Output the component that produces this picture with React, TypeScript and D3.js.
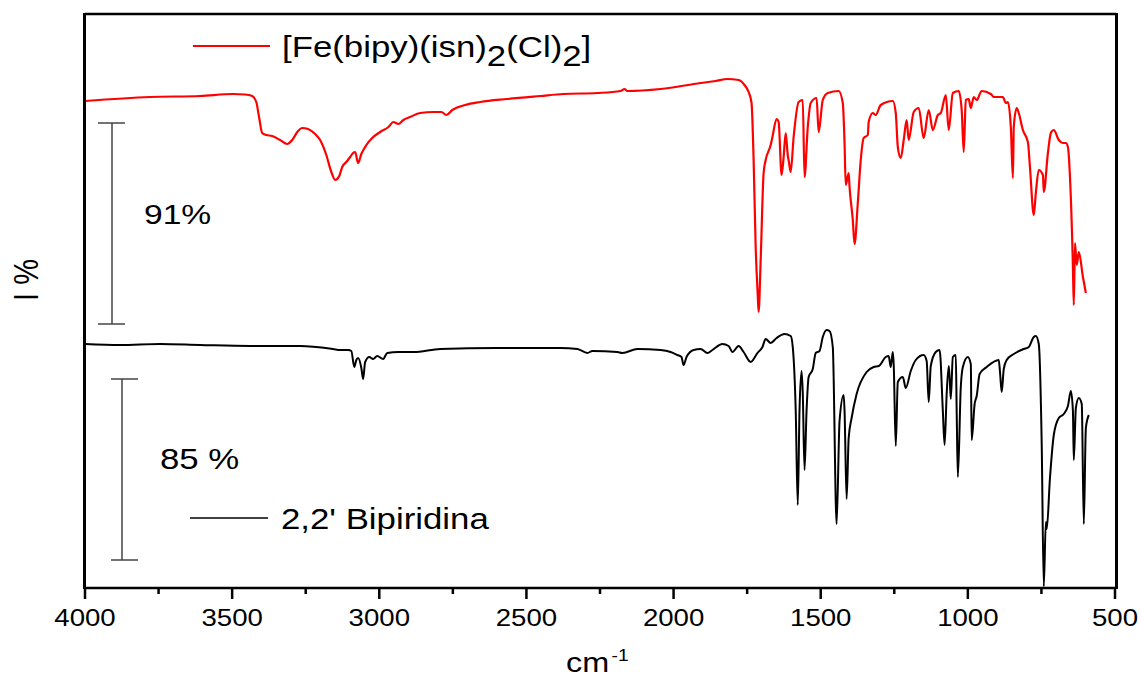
import React from "react";
import * as d3 from "d3";

// Wavenumber (cm^-1) vs. relative intensity (arbitrary I% units, curves stacked)
const redSpectrum: [number, number][] = [
  [4000, 97.4], [3779, 98.2], [3609, 98.4], [3497, 98.8], [3456, 98.7], [3432, 98.4],
  [3418, 97.2], [3408, 94], [3398, 91], [3384, 90.6], [3364, 90.4], [3337, 89.6],
  [3313, 88.8], [3296, 89.6], [3276, 91.4], [3262, 92], [3242, 91.8], [3218, 90.8],
  [3201, 89.6], [3180, 86.6], [3163, 83.2], [3150, 81.6], [3136, 82.4], [3126, 84.2],
  [3112, 85.2], [3099, 86.2], [3089, 87], [3082, 87.2], [3072, 85], [3061, 86.8],
  [3044, 88.6], [3024, 90], [2997, 91.2], [2969, 92.2], [2952, 93.2], [2935, 92.8],
  [2918, 93.6], [2895, 94.2], [2861, 95], [2816, 95.2], [2789, 95.2], [2772, 94.6],
  [2752, 95.6], [2708, 96.6], [2657, 97.2], [2565, 97.8], [2453, 98.4], [2374, 98.8],
  [2259, 99], [2180, 99.4], [2167, 99.8], [2157, 99.4], [2044, 99.8], [1908, 101],
  [1857, 101.4], [1817, 101.8], [1779, 101.6], [1759, 100.6], [1745, 99.2], [1735, 97],
  [1728, 85.6], [1721, 68.2], [1714, 58.6], [1711, 55.2], [1704, 65.6], [1694, 83],
  [1687, 85.6], [1670, 88.6], [1664, 90.2], [1650, 93.8], [1643, 93.2], [1633, 82.6],
  [1626, 86.2], [1619, 91], [1612, 86.6], [1608, 85.2], [1602, 83.2], [1592, 90.2],
  [1575, 97.2], [1561, 97.6], [1555, 82.2], [1544, 92.2], [1534, 97], [1514, 98],
  [1507, 91.2], [1493, 97.6], [1476, 99], [1439, 99.4], [1425, 97], [1419, 89],
  [1415, 80.6], [1405, 83], [1402, 80.2], [1391, 73.6], [1385, 68.8], [1374, 77],
  [1364, 85.6], [1354, 90], [1340, 90.6], [1337, 93.2], [1323, 95], [1313, 94.6],
  [1296, 96.6], [1255, 97.4], [1245, 95], [1238, 88.2], [1228, 86], [1218, 89.6],
  [1208, 93.6], [1201, 89.6], [1184, 95.2], [1167, 96], [1150, 90], [1133, 95.6],
  [1119, 91.6], [1102, 94.6], [1092, 95], [1075, 98.6], [1065, 91.6], [1051, 99],
  [1031, 99.4], [1021, 95.6], [1014, 87.2], [1007, 97.6], [997, 97.8], [990, 96],
  [980, 98.2], [970, 97.6], [953, 99.4], [922, 98.8], [912, 98.2], [881, 98.2],
  [871, 97], [864, 97.2], [854, 92.2], [847, 82], [844, 92.2], [834, 96],
  [827, 95], [813, 91.6], [796, 89.2], [789, 84.2], [776, 74.6], [769, 79],
  [759, 83.6], [745, 82.6], [742, 79.2], [728, 87], [718, 91], [708, 91.6],
  [691, 89.6], [677, 89], [667, 89], [660, 88.2], [653, 82.2], [643, 64.2],
  [640, 56.6], [636, 69], [630, 64.6], [623, 67.2], [609, 62.2], [599, 59],
];

const blackSpectrum: [number, number][] = [
  [4000, 48.8], [3881, 48.6], [3745, 48.8], [3609, 48.6], [3439, 48.4], [3269, 48.4],
  [3157, 47.8], [3133, 47.6], [3106, 47.6], [3095, 47.4], [3085, 44.2], [3078, 45.6],
  [3072, 46], [3061, 44], [3055, 41.8], [3048, 45.2], [3034, 46.2], [3021, 45.8],
  [3007, 46.4], [2987, 45.8], [2973, 47], [2935, 47.2], [2884, 47.2], [2793, 47.8],
  [2599, 48], [2385, 48], [2327, 47.8], [2293, 47], [2276, 47.4], [2191, 47.2],
  [2174, 47], [2123, 47.8], [2044, 47.6], [2010, 47.2], [1987, 46.6], [1973, 46.2],
  [1966, 44.6], [1956, 46.2], [1932, 47.6], [1908, 47.8], [1885, 47], [1868, 47.6],
  [1834, 48.8], [1813, 48.4], [1800, 47.2], [1779, 48.4], [1762, 47.2], [1738, 45.2],
  [1715, 47], [1698, 48.2], [1687, 49.8], [1670, 49], [1650, 50], [1623, 50.8],
  [1602, 50.4], [1595, 48.2], [1585, 35.6], [1578, 16.6], [1572, 35.6], [1565, 43.4],
  [1561, 39], [1555, 23.6], [1548, 35.6], [1541, 42.2], [1527, 43.8], [1517, 47],
  [1504, 47.4], [1493, 50.2], [1480, 51.6], [1470, 51.4], [1459, 48.2], [1446, 12.8],
  [1436, 33.4], [1422, 38.6], [1419, 35.4], [1412, 17.8], [1405, 30], [1395, 34],
  [1378, 38.8], [1344, 43.2], [1320, 44.2], [1303, 44.4], [1279, 46.2], [1269, 46.4],
  [1262, 44.2], [1255, 47.2], [1252, 44.8], [1245, 28.4], [1238, 41.2], [1221, 42.2],
  [1211, 40], [1194, 43.4], [1177, 45.6], [1150, 46.6], [1140, 45.4], [1133, 37.2],
  [1126, 44.4], [1109, 47.2], [1096, 47.6], [1085, 35.4], [1079, 28.6], [1072, 38.8],
  [1065, 44.4], [1062, 42.2], [1058, 37.8], [1051, 46.2], [1041, 46.6], [1038, 35.4],
  [1034, 22.2], [1024, 40.2], [1017, 44.2], [1000, 46.2], [990, 44.8], [987, 29.6],
  [977, 36.8], [970, 38.4], [960, 42.8], [936, 44.2], [895, 45.6], [891, 43.4],
  [885, 39.2], [878, 43.8], [868, 45.6], [844, 46.8], [810, 47.8], [793, 48.2],
  [776, 50.2], [769, 50.4], [759, 48.8], [749, 28.6], [742, 0.3], [735, 13.2],
  [732, 11.8], [721, 22], [708, 30.6], [691, 34], [674, 34.8], [660, 36.4],
  [650, 39.4], [643, 35.4], [640, 25.6], [633, 36], [623, 38], [613, 36.8],
  [606, 12.8], [599, 32], [589, 34.6],
];

const majorTicks = [4000, 3500, 3000, 2500, 2000, 1500, 1000, 500];
const minorTicks = [3750, 3250, 2750, 2250, 1750, 1250, 750];

const seriesLabels = { red: "[Fe(bipy)(isn)", black: "2,2' Bipiridina" };
const scaleBarLabels = ["91%", "85 %"];
// scale bars expressed in plot units (I%) : [top, bottom]
const redBar: [number, number] = [93, 52.8];
const blackBar: [number, number] = [41.8, 5.6];

const FONT = "'Liberation Sans', Arial, Helvetica, sans-serif";
const SX = 1.2; // horizontal stretch of the original figure

export default function App() {
  const left = 85, right = 1115, top = 14, bottom = 588;
  const x = d3.scaleLinear().domain([4000, 500]).range([left, right]);
  const y = d3.scaleLinear().domain([0, 114.8]).range([bottom, top]);
  const line = d3
    .line<[number, number]>()
    .x((d) => x(d[0]))
    .y((d) => y(d[1]))
    .curve(d3.curveMonotoneX);

  const stretchText = (
    tx: number,
    ty: number,
    size: number,
    content: React.ReactNode,
    anchor: string = "start"
  ) => (
    <text
      transform={`translate(${tx},${ty}) scale(${SX},1)`}
      fontSize={size}
      fontFamily={FONT}
      textAnchor={anchor}
      fill="#000"
    >
      {content}
    </text>
  );

  const barX1 = 112, barX2 = 122;

  return (
    <svg
      width={1141}
      height={680}
      style={{ position: "absolute", left: 0, top: 0, background: "#fff" }}
    >
      <rect x={0} y={0} width={1141} height={680} fill="#fff" />
      {/* spectra */}
      <path d={line(blackSpectrum) || ""} fill="none" stroke="#000" strokeWidth={2} strokeLinejoin="round" />
      <path d={line(redSpectrum) || ""} fill="none" stroke="#ff0000" strokeWidth={2.2} strokeLinejoin="round" />

      {/* frame */}
      <line x1={left} x2={right + 1} y1={top} y2={top} stroke="#000" strokeWidth={2.5} />
      <line x1={left} x2={right + 1} y1={bottom} y2={bottom} stroke="#000" strokeWidth={2.5} />
      <line x1={left - 0.5} x2={left - 0.5} y1={top - 1} y2={bottom + 1} stroke="#000" strokeWidth={3} />
      <line x1={right + 1.5} x2={right + 1.5} y1={top - 1} y2={bottom + 1} stroke="#000" strokeWidth={3} />

      {/* x ticks */}
      {majorTicks.map((t) => (
        <line key={"M" + t} x1={x(t)} x2={x(t)} y1={bottom} y2={bottom + 11} stroke="#000" strokeWidth={2.5} />
      ))}
      {minorTicks.map((t) => (
        <line key={"m" + t} x1={x(t)} x2={x(t)} y1={bottom} y2={bottom + 6} stroke="#000" strokeWidth={2.5} />
      ))}
      {majorTicks.map((t) => (
        <React.Fragment key={"l" + t}>{stretchText(x(t), 626, 23, String(t), "middle")}</React.Fragment>
      ))}

      {/* axis titles */}
      {stretchText(
        566,
        672,
        27,
        <>
          cm
          <tspan fontSize={16} dy={-11} dx={2}>-1</tspan>
        </>
      )}
      <text
        transform={`translate(38,280) scale(${SX},1) rotate(-90)`}
        fontSize={29}
        fontFamily={FONT}
        textAnchor="middle"
        fill="#000"
      >
        I %
      </text>

      {/* scale bars */}
      <g stroke="#444" strokeWidth={1.5}>
        <line x1={barX1} x2={barX1} y1={y(redBar[0])} y2={y(redBar[1])} />
        <line x1={barX1 - 14} x2={barX1 + 13} y1={y(redBar[0])} y2={y(redBar[0])} />
        <line x1={barX1 - 14} x2={barX1 + 13} y1={y(redBar[1])} y2={y(redBar[1])} />
        <line x1={barX2} x2={barX2} y1={y(blackBar[0])} y2={y(blackBar[1])} />
        <line x1={barX2 - 11} x2={barX2 + 16} y1={y(blackBar[0])} y2={y(blackBar[0])} />
        <line x1={barX2 - 11} x2={barX2 + 16} y1={y(blackBar[1])} y2={y(blackBar[1])} />
      </g>
      {stretchText(144, 224, 28, scaleBarLabels[0])}
      {stretchText(160, 469, 29, scaleBarLabels[1])}

      {/* legends */}
      <line x1={193} x2={270} y1={46} y2={46} stroke="#ff0000" strokeWidth={2} />
      {stretchText(
        282,
        57,
        29,
        <>
          {seriesLabels.red}
          <tspan dy={9}>2</tspan>
          <tspan dy={-9}>(Cl)</tspan>
          <tspan dy={9}>2</tspan>
          <tspan dy={-9}>]</tspan>
        </>
      )}
      <line x1={190} x2={268} y1={518} y2={518} stroke="#000" strokeWidth={1.5} />
      {stretchText(281, 529, 29, seriesLabels.black)}
    </svg>
  );
}
